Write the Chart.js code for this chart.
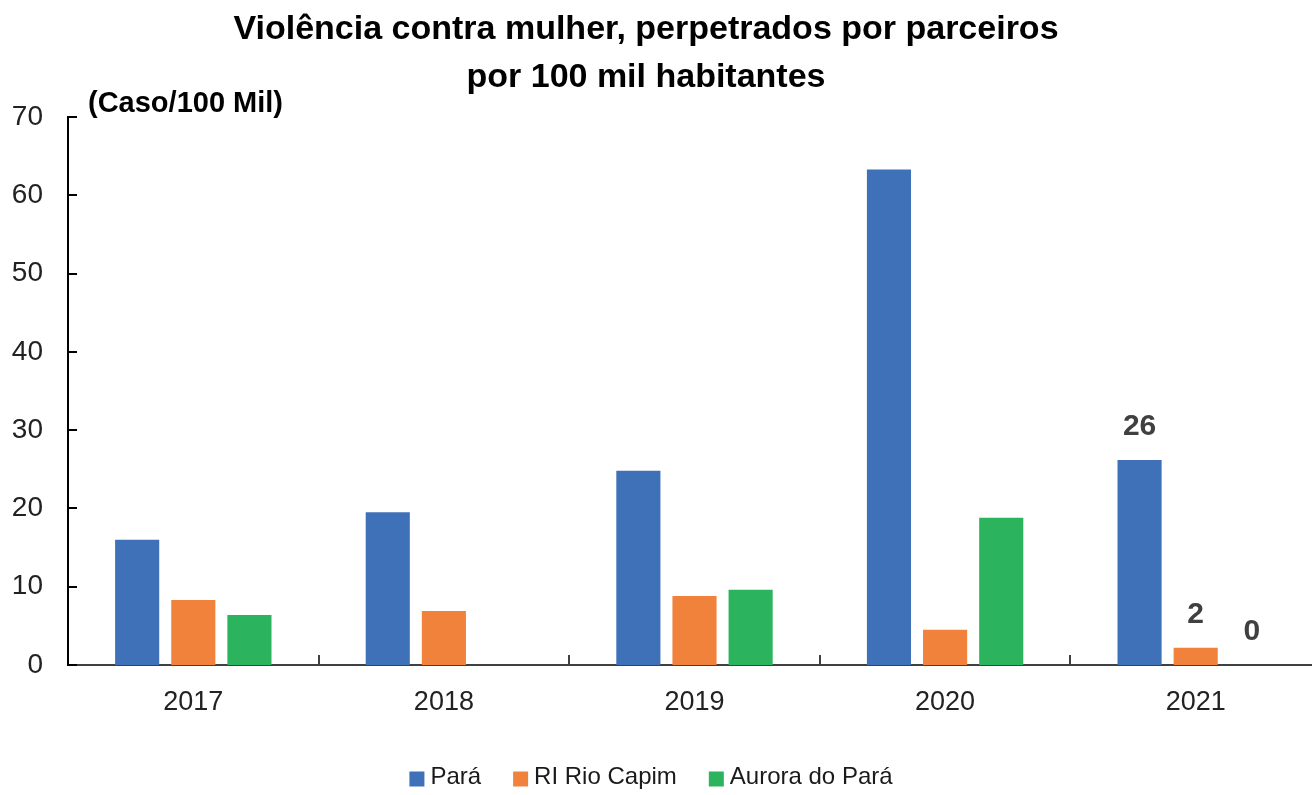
<!DOCTYPE html>
<html>
<head>
<meta charset="utf-8">
<script src="https://cdn.jsdelivr.net/npm/chart.js@4/dist/chart.umd.min.js"></script>
<style>
  html, body { margin: 0; padding: 0; background: #fff; overflow: hidden; }
  #wrap { width: 1321px; height: 795px; }
</style>
</head>
<body>
<div id="wrap"><canvas id="chart"></canvas></div>
<script>
const FONT = '"Liberation Sans Narrow", "Arial Narrow", "Liberation Sans", Arial, sans-serif';

// data
const categories = ['2017', '2018', '2019', '2020', '2021'];
const seriesNames = ['Pará', 'RI Rio Capim', 'Aurora do Pará'];
const para = [16.0, 19.5, 24.8, 63.3, 26.2];
const rioCapim = [8.3, 6.9, 8.8, 4.5, 2.2];
const aurora = [6.4, 0, 9.6, 18.8, 0];
const colors = ['#3F71B8', '#F0823C', '#2BB45D'];
const labeledCategories = ['2021']; // only the last year carries value labels
const titleLines = ['Violência contra mulher, perpetrados por parceiros', 'por 100 mil habitantes'];
const unitLabel = '(Caso/100 Mil)';

// title, inward tick marks, unit label, value labels and the legend
const extras = {
  id: 'extras',
  afterDraw(chart) {
    const { ctx, chartArea, scales: { x, y } } = chart;
    ctx.save();

    // title, centred a bit left of the page like the original
    ctx.fillStyle = '#000';
    ctx.font = 'bold 34px ' + FONT;
    ctx.textAlign = 'center';
    ctx.textBaseline = 'middle';
    titleLines.forEach((line, i) => ctx.fillText(line, 646, 30 + i * 48));

    // y ticks point into the plot
    ctx.strokeStyle = '#000';
    ctx.lineWidth = 2;
    y.ticks.forEach(t => {
      const py = Math.round(y.getPixelForValue(t.value));
      ctx.beginPath();
      ctx.moveTo(chartArea.left, py);
      ctx.lineTo(chartArea.left + 9, py);
      ctx.stroke();
    });

    // x ticks between categories, pointing up
    ctx.strokeStyle = '#404040';
    for (let i = 1; i < categories.length; i++) {
      const px = Math.round((x.getPixelForValue(i - 1) + x.getPixelForValue(i)) / 2);
      ctx.beginPath();
      ctx.moveTo(px, chartArea.bottom);
      ctx.lineTo(px, chartArea.bottom - 10);
      ctx.stroke();
    }

    // unit label
    ctx.fillStyle = '#000';
    ctx.font = 'bold 29px ' + FONT;
    ctx.textAlign = 'left';
    ctx.textBaseline = 'middle';
    ctx.fillText(unitLabel, 88, 104);

    // value labels
    ctx.fillStyle = '#404040';
    ctx.font = 'bold 30px ' + FONT;
    ctx.textAlign = 'center';
    ctx.textBaseline = 'alphabetic';
    chart.data.datasets.forEach((ds, di) => {
      const meta = chart.getDatasetMeta(di);
      labeledCategories.forEach(cat => {
        const i = categories.indexOf(cat);
        const bar = meta.data[i];
        ctx.fillText(String(Math.round(ds.data[i])), bar.x, bar.y - 25);
      });
    });

    // legend
    ctx.font = '24px ' + FONT;
    ctx.textBaseline = 'middle';
    ctx.textAlign = 'left';
    const box = 15, boxGap = 6, itemGap = 32, ly = 777;
    const widths = seriesNames.map(n => box + boxGap + ctx.measureText(n).width);
    const total = widths.reduce((a, b) => a + b, 0) + itemGap * (seriesNames.length - 1);
    let lx = 651 - total / 2;
    seriesNames.forEach((n, i) => {
      ctx.fillStyle = colors[i];
      ctx.fillRect(lx, ly - box / 2 + 2, box, box);
      ctx.fillStyle = '#1a1a1a';
      ctx.fillText(n, lx + box + boxGap, ly);
      lx += widths[i] + itemGap;
    });

    ctx.restore();
  }
};

const barStyle = { categoryPercentage: 0.672, barPercentage: 0.786, borderWidth: 0 };

new Chart(document.getElementById('chart'), {
  type: 'bar',
  data: {
    labels: categories,
    datasets: [
      { label: seriesNames[0], data: para, backgroundColor: colors[0], ...barStyle },
      { label: seriesNames[1], data: rioCapim, backgroundColor: colors[1], ...barStyle },
      { label: seriesNames[2], data: aurora, backgroundColor: colors[2], ...barStyle },
    ],
  },
  options: {
    responsive: true,
    maintainAspectRatio: false,
    animation: false,
    layout: { padding: { left: 0, right: 0, top: 117, bottom: 0 } },
    plugins: {
      legend: { display: false },
      tooltip: { enabled: false },
      title: { display: false },
    },
    scales: {
      x: {
        grid: { display: false, drawTicks: false },
        border: { display: true, color: '#404040', width: 2 },
        ticks: { color: '#222', font: { family: FONT, size: 27 }, padding: 21 },
        afterFit(scale) { scale.height = 130; },
      },
      y: {
        min: 0,
        max: 70,
        grid: { display: false, drawTicks: false },
        border: { display: true, color: '#000', width: 2 },
        ticks: { stepSize: 10, color: '#222', font: { family: FONT, size: 28 }, padding: 25 },
        afterFit(scale) { scale.width = 68; },
      },
    },
  },
  plugins: [extras],
});
</script>
</body>
</html>
